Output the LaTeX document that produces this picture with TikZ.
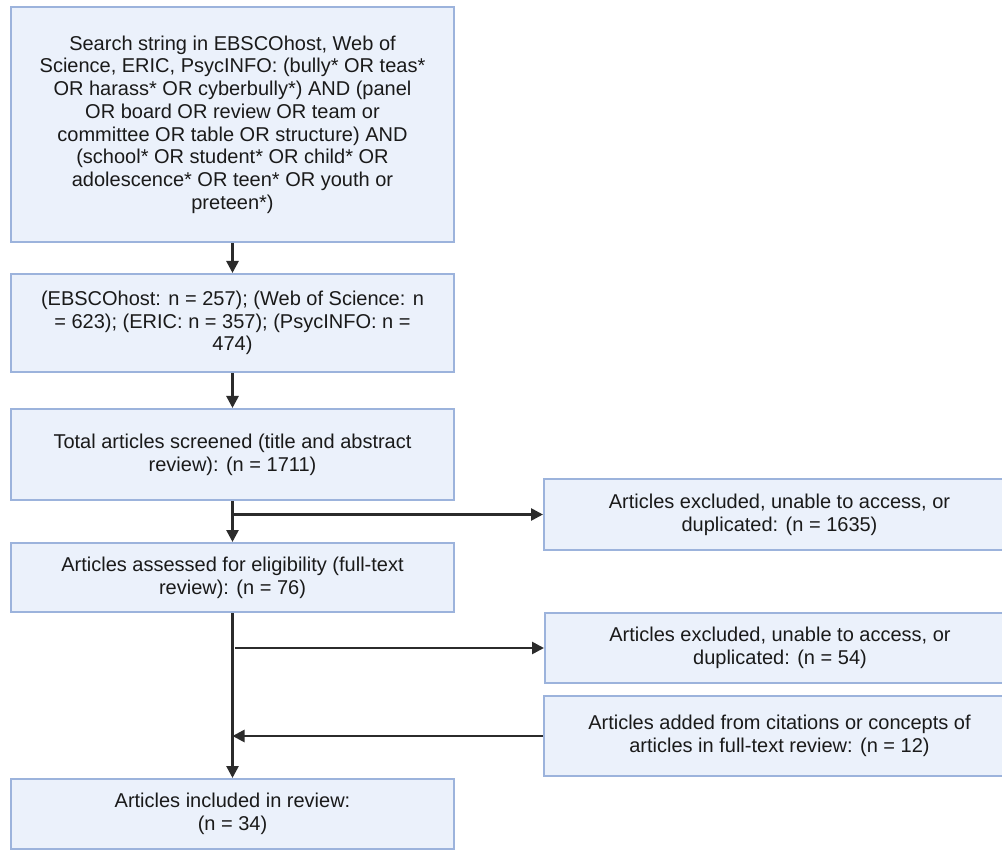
\documentclass[tikz,border=0pt]{standalone}
\usepackage{fontspec}
\setmainfont{Liberation Sans}
\usetikzlibrary{arrows.meta}
\definecolor{boxfill}{HTML}{EBF1FB}
\definecolor{boxdraw}{HTML}{9CB3DC}
\definecolor{arr}{HTML}{2B2B2B}
\definecolor{txt}{HTML}{1A1A1A}
\tikzset{
  box/.style={draw=boxdraw, fill=boxfill, line width=2pt, rectangle, inner sep=0pt,
    text=txt, align=center, font=\fontsize{20}{22.7}\selectfont},
  conn/.style={draw=arr, line width=2.6pt, -{Triangle[length=12pt,width=12pt]}},
}
\begin{document}
\begin{tikzpicture}[x=1pt,y=-1pt]
\useasboundingbox (0,0) rectangle (1002,850);
\node[box, minimum width=443pt, minimum height=235pt] (b1) at (232.5,124.5)
 {Search string in EBSCOhost, Web of\\Science, ERIC, PsycINFO: (bully* OR teas*\\OR harass* OR cyberbully*) AND (panel\\OR board OR review OR team or\\committee OR table OR structure) AND\\(school* OR student* OR child* OR\\adolescence* OR teen* OR youth or\\preteen*)};
\node[box, minimum width=443pt, minimum height=98pt] (b2) at (232.5,323)
 {(EBSCOhost: n = 257); (Web of Science: n\\= 623); (ERIC: n = 357); (PsycINFO: n =\\474)};
\node[box, minimum width=443pt, minimum height=91pt] (b3) at (232.5,454.5)
 {Total articles screened (title and abstract\\review): (n = 1711)};
\node[box, minimum width=471pt, minimum height=71pt] (b4) at (779.5,514.5)
 {Articles excluded, unable to access, or\\duplicated: (n = 1635)};
\node[box, minimum width=443pt, minimum height=69pt] (b5) at (232.5,577.5)
 {Articles assessed for eligibility (full-text\\review): (n = 76)};
\node[box, minimum width=470pt, minimum height=70pt] (b6) at (780,648)
 {Articles excluded, unable to access, or\\duplicated: (n = 54)};
\node[box, minimum width=471pt, minimum height=80pt] (b7) at (779.5,736)
 {Articles added from citations or concepts of\\articles in full-text review: (n = 12)};
\node[box, minimum width=443pt, minimum height=70pt] (b8) at (232.5,814)
 {Articles included in review:\\(n = 34)};
\coordinate (j1) at (232.5,514.5);
\coordinate (j2) at (235,648);
\coordinate (j3) at (232.5,736);
\draw[conn] (b1) -- (b2);
\draw[conn] (b2) -- (b3);
\draw[conn] (b3) -- (b5);
\draw[conn] (b5) -- (b8);
\draw[conn] (j1) -- (b4.west);
\draw[conn] (j2) -- (b6.west);
\draw[conn] (b7.west) -- (j3);
\end{tikzpicture}
\end{document}
